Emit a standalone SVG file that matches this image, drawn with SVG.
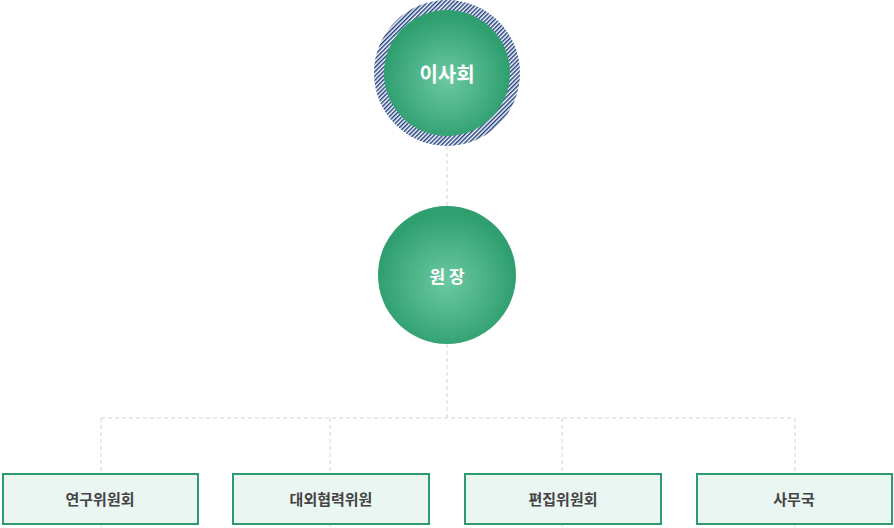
<svg xmlns="http://www.w3.org/2000/svg" width="894" height="528" viewBox="0 0 894 528">
<style>
.ln{stroke:#d4d4d4;stroke-width:1;stroke-dasharray:4 3;fill:none}
.box{fill:#eaf6f1;stroke:#2e9a6e;stroke-width:2}
.bt{font-family:"Noto Sans CJK KR",sans-serif;font-size:15px;font-weight:700;fill:#444;text-anchor:middle}
.ct{font-family:"Noto Sans CJK KR",sans-serif;font-weight:700;fill:#fff;text-anchor:middle}
</style>
<defs>
<radialGradient id="g" cx="0.5" cy="0.55" r="0.5">
<stop offset="0" stop-color="#6cc9a2"/><stop offset="1" stop-color="#2f9f70"/>
</radialGradient>
<pattern id="h" width="3" height="3" patternUnits="userSpaceOnUse" patternTransform="rotate(45)">
<rect width="3" height="3" fill="#fff"/><rect width="1.5" height="3" fill="#1f3f7f"/>
</pattern>
</defs>
<g id="connectors">
<path class="ln" d="M447 146V206M447 344V418M101 418H795M101 418V528M330 418V528M562 418V528M795 418V528"/>
</g>
<g id="board">
<circle cx="447" cy="73" r="73" fill="url(#h)"/>
<circle cx="447" cy="73" r="63" fill="url(#g)"/>
<text class="ct" x="447" y="82" font-size="20">이사회</text>
</g>
<g id="director">
<circle cx="447" cy="275" r="69" fill="url(#g)"/>
<text class="ct" x="447" y="283" font-size="17" xml:space="preserve">원 장</text>
</g>
<g id="n1"><rect class="box" x="3" y="474" width="195" height="50"/><text class="bt" x="100" y="505">연구위원회</text></g>
<g id="n2"><rect class="box" x="233" y="474" width="196" height="50"/><text class="bt" x="331" y="505">대외협력위원</text></g>
<g id="n3"><rect class="box" x="465" y="474" width="196" height="50"/><text class="bt" x="563" y="505">편집위원회</text></g>
<g id="n4"><rect class="box" x="697" y="474" width="195" height="50"/><text class="bt" x="794" y="505">사무국</text></g>
</svg>
